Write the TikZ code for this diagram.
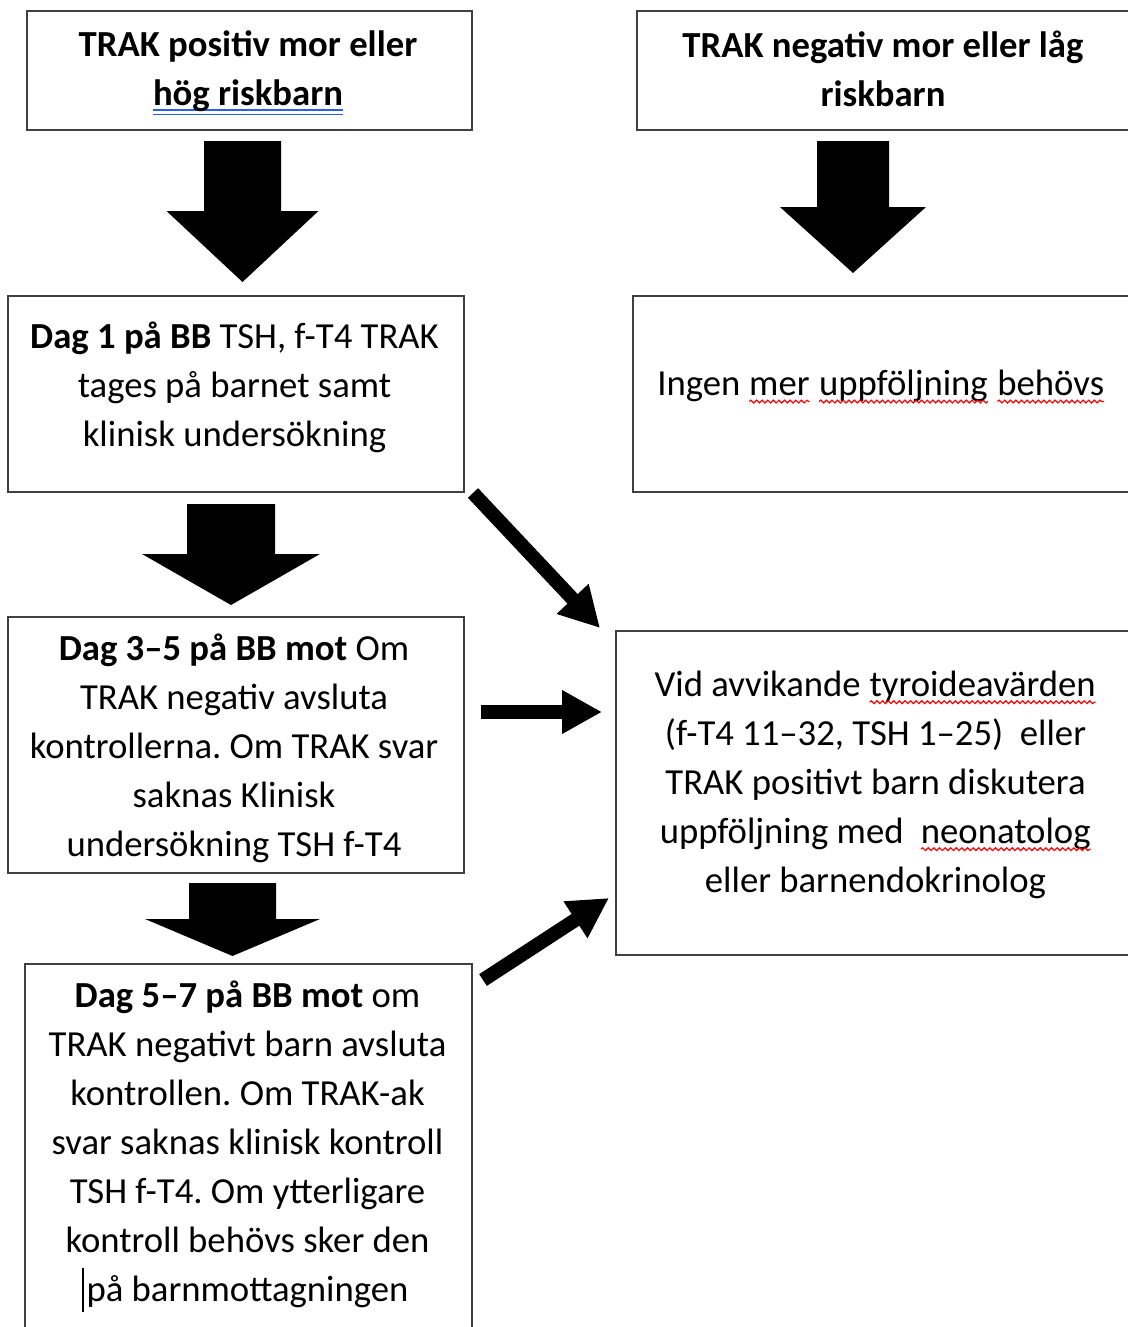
\documentclass[tikz,border=0pt]{standalone}
\usepackage{fontspec}
\setmainfont{Carlito}
\usetikzlibrary{arrows.meta,decorations.pathmorphing}

\definecolor{gramblue}{RGB}{40,95,235}
\newcommand{\boxfont}{\fontsize{18.35}{24.5}\selectfont\frenchspacing}

% red spell-check wave under a word
\newcommand{\wavy}[1]{\tikz[baseline=(w.base)]{%
  \node[inner sep=0pt,outer sep=0pt,draw=none,fill=none,minimum size=0pt,anchor=base] (w) {#1};
  \draw[red,line width=0.6pt,decorate,decoration={snake,amplitude=0.7pt,segment length=2.8pt}]
    ([yshift=-2.8pt]w.base west) -- ([yshift=-2.8pt]w.base east);}}
% blue double line under a phrase
\newsavebox{\gramline}
\newcommand{\dblue}[1]{\sbox{\gramline}{#1}%
  \rlap{\textcolor{gramblue}{\rule[-2.4pt]{\wd\gramline}{0.65pt}}}%
  \rlap{\textcolor{gramblue}{\rule[-4.6pt]{\wd\gramline}{0.65pt}}}%
  \usebox{\gramline}}
% text cursor left in the last line
\newcommand{\textcursor}{\llap{\rule[-5pt]{0.6pt}{22pt}\hspace{1.5pt}}}

\tikzset{
  box/.style={draw=black!75, line width=0.75pt, inner sep=0pt, outer sep=0pt},
  txt/.style={font=\boxfont, align=center, inner sep=0pt},
  thinarrow/.style={line width=7pt, -{Triangle[length=20pt,width=20.5pt]}}
}

\begin{document}
\begin{tikzpicture}[x=0.5pt,y=-0.5pt]

  % Page in pixels, y pointing down
  \path[use as bounding box, fill=white] (0,0) rectangle (1128,1327);

  % Block arrow pointing down: top centre, half shaft, shaft length, half head, head length
  \def\downblock#1#2#3#4#5{%
    \fill #1 ++({-#2},0) -- ++(0,#3) -- ++({#2-#4},0) -- ++(#4,#5)
      -- ++(#4,{-#5}) -- ++({#2-#4},0) -- ++(0,{-#3}) -- cycle;}

  % Top row
  \node[box, minimum width=222.5pt, minimum height=59.5pt] (A) at (249.5,70.5) {};
  \node[txt, font=\boxfont\bfseries] (At) at (248,73)
    {TRAK positiv mor eller\\\dblue{hög riskbarn}};

  \node[box, minimum width=247.5pt, minimum height=59.5pt] (B) at (884.5,70.5) {};
  \node[txt, font=\boxfont\bfseries] (Bt) at (883,68.5)
    {TRAK negativ mor eller låg\\riskbarn};

  % Second row
  \node[box, minimum width=228pt, minimum height=98pt] (C) at (236,394) {};
  \node[txt] (Ct) at (234.5,387)
    {\textbf{Dag 1 på BB} TSH, f-T4 TRAK\\tages på barnet samt\\klinisk undersökning};

  \node[box, minimum width=249.5pt, minimum height=98pt] (D) at (882.5,394) {};
  \node[txt] (Dt) at (881,387)
    {Ingen \wavy{mer} \wavy{uppföljning} \wavy{behövs}};

  % Day 3-5 box
  \node[box, minimum width=228pt, minimum height=128pt] (E) at (236,745) {};
  \node[txt] (Et) at (234,748)
    {\textbf{Dag 3–5 på BB mot} Om\\TRAK negativ avsluta\\kontrollerna. Om TRAK svar\\saknas Klinisk\\undersökning TSH f-T4};

  % Box on the right that the three arrows point to
  \node[box, minimum width=258pt, minimum height=162pt] (F) at (874,793) {};
  \node[txt] (Ft) at (875.5,785)
    {Vid avvikande \wavy{tyroideavärden}\\(f-T4 11–32, TSH 1–25)~ eller\\TRAK positivt barn diskutera\\uppföljning med~ \wavy{neonatolog}\\eller barnendokrinolog};

  % Day 5-7 box, runs off the bottom
  \node[box, minimum width=223.5pt, minimum height=186pt] (G) at (248.5,1150) {};
  \node[txt] (Gt) at (247.5,1146.5)
    {\textbf{Dag 5–7 på BB mot} om\\TRAK negativt barn avsluta\\kontrollen. Om TRAK-ak\\svar saknas klinisk kontroll\\TSH f-T4. Om ytterligare\\kontroll behövs sker den\\\textcursor på barnmottagningen};

  % Big arrows down
  \downblock{([shift={(-7,11)}]A.south)}{38.5}{70}{76}{71}
  \downblock{([shift={(-31.5,11)}]B.south)}{36}{66}{73}{66}
  \downblock{([shift={(-5,12)}]C.south)}{44}{50}{89}{51}
  \downblock{([shift={(-3.5,10)}]E.south)}{43.5}{36}{87.5}{37}

  % Arrows into the right box
  \draw[thinarrow] ([shift={(9,1)}]C.south east) -- ([shift={(-16,-3)}]F.north west);
  \draw[thinarrow] ([shift={(17,-33)}]E.east) -- ([shift={(-14,-81)}]F.west);
  \draw[thinarrow] ([shift={(11,16)}]G.north east) -- ([shift={(-7,-57)}]F.south west);

\end{tikzpicture}
\end{document}
